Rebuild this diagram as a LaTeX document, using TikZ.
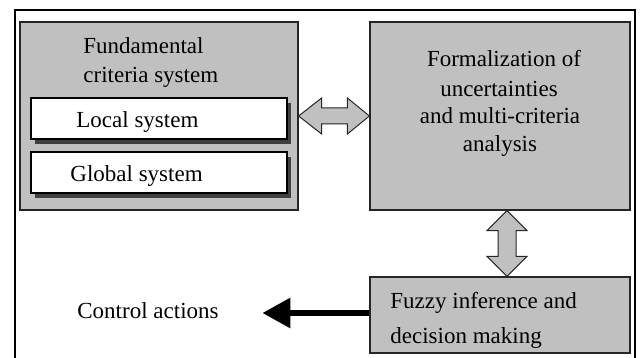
\documentclass[tikz,border=0pt]{standalone}
\usepackage{fontspec}
\setmainfont{Liberation Serif}
\usetikzlibrary{calc,arrows.meta,shadows}
\definecolor{boxgray}{RGB}{192,192,192}
\begin{document}
\begin{tikzpicture}[x=0.5pt,y=-0.5pt,
  every node/.style={font=\fontsize{11.5pt}{14pt}\selectfont, inner sep=0pt},
  graybox/.style={rectangle, draw=black!85, line width=0.6pt, fill=boxgray},
  whitebox/.style={rectangle, draw=black, line width=0.6pt, fill=white,
    minimum width=128pt, minimum height=20.5pt,
    drop shadow={shadow xshift=2pt, shadow yshift=-2.5pt, fill=black!75, opacity=1}},
  txt/.style={anchor=base west},
  ctxt/.style={anchor=base},
  blockarrow/.style={draw=black!85, fill=boxgray, line width=0.5pt, line join=miter}]
\useasboundingbox (0,0) rectangle (643,358);
\draw[line width=1.1pt] (15,362) -- (15,10) -- (635,10) -- (635,362);

\node[graybox, minimum width=139pt, minimum height=94pt] (fcs) at (159,116) {};
\node[whitebox] (loc) at (159,118.5) {};
\node[whitebox] (glob) at (159,172.5) {};
\node[graybox, minimum width=130pt, minimum height=94pt] (form) at (500,116) {};
\node[graybox, minimum width=130pt, minimum height=38pt] (fuzzy) at (500,315) {};

\node[txt] (t1) at (83,54) {Fundamental};
\node[txt] (t2) at (83,83) {criteria system};
\node[txt] (t3) at (76,128) {Local system};
\node[txt] (t4) at (70,182) {Global system};
\node[ctxt] (t5) at (504,67) {Formalization of};
\node[ctxt] (t6) at (499,97) {uncertainties};
\node[ctxt] (t7) at (500,124) {and multi-criteria};
\node[ctxt] (t8) at (500,152) {analysis};
\node[txt] (t9) at (390,308) {Fuzzy inference and};
\node[txt] (t10) at (390,343) {decision making};
\node[txt] (ca) at (77,318) {Control actions};

% horizontal double block arrow
\draw[blockarrow] (fcs.east) -- ++(23,-18) -- ++(0,10) -- ($(form.west)+(-22,-8)$)
  -- ++(0,-10) -- (form.west) -- ++(-22,18) -- ++(0,-10) -- ($(fcs.east)+(23,8)$)
  -- ++(0,10) -- cycle;

% vertical double block arrow
\coordinate (vt) at ($(form.south)+(7,0)$);
\coordinate (vb) at ($(fuzzy.north)+(7,0)$);
\draw[blockarrow] (vt) -- ++(20,20) -- ++(-11,0) -- ($(vb)+(9,-20)$) -- ++(11,0)
  -- (vb) -- ++(-20,-20) -- ++(11,0) -- ($(vt)+(-9,20)$) -- ++(-11,0) -- cycle;

% control actions arrow
\coordinate (catip) at ($(fuzzy.west)+(-107,-2)$);
\draw[line width=3pt, -{Triangle[length=14pt,width=14.5pt]}] ($(fuzzy.west)+(0,-2)$) -- (catip);
\end{tikzpicture}
\end{document}
